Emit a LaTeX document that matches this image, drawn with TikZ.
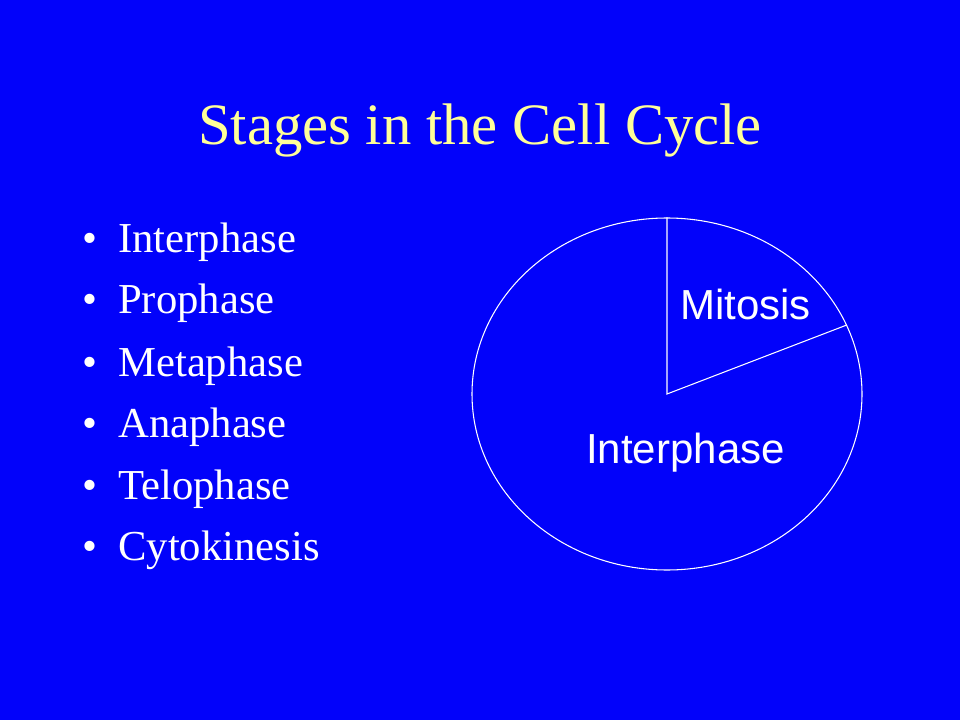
\documentclass[tikz,border=0pt]{standalone}
\usepackage{fontspec}
\setmainfont{Liberation Serif}
\newfontfamily\arialfont{Liberation Sans}
\usetikzlibrary{shapes.geometric}

\definecolor{slideblue}{RGB}{2,2,250}
\definecolor{titleyellow}{RGB}{255,255,153}

\tikzset{
    title/.style={anchor=base, text=titleyellow, font=\fontsize{44}{50}\selectfont, inner sep=0},
    item/.style={anchor=base west, text=white, font=\fontsize{32}{38}\selectfont, inner sep=0},
    dot/.style={anchor=base, text=white, font=\fontsize{32}{38}\selectfont, inner sep=0},
    slice/.style={anchor=base west, text=white, font=\arialfont\fontsize{31.5}{36}\selectfont, inner sep=0},
    rim/.style={draw=white, line width=0.8pt}
}

\begin{document}
\begin{tikzpicture}[x=0.75pt,y=-0.75pt]
        \fill[slideblue] (0,0) rectangle (960,720);

        \node[title] (heading) at (480,145) {Stages in the Cell Cycle};

        \node[dot] (dot1) at (90,253) {•};
        \node[item] (interphase) at (118,253) {Interphase};
        \node[dot] (dot2) at (90,314) {•};
        \node[item] (prophase) at (118,314) {Prophase};
        \node[dot] (dot3) at (90,376) {•};
        \node[item] (metaphase) at (118,376) {Metaphase};
        \node[dot] (dot4) at (90,437) {•};
        \node[item] (anaphase) at (118,437) {Anaphase};
        \node[dot] (dot5) at (90,499) {•};
        \node[item] (telophase) at (118,499) {Telophase};
        \node[dot] (dot6) at (90,560) {•};
        \node[item] (cytokinesis) at (118,560) {Cytokinesis};

        \node[ellipse, rim, minimum width=292.5pt, minimum height=264pt, inner sep=0] (pie) at (667,394) {};
        \coordinate (hub) at (pie.center);
        \draw[white, line width=0.8pt] (pie.north) -- (hub) -- (pie.21.6);

        \node[slice] (mitosis) at (680,320) {Mitosis};
        \node[slice] (interlabel) at (586,463) {Interphase};
    \end{tikzpicture}
\end{document}
